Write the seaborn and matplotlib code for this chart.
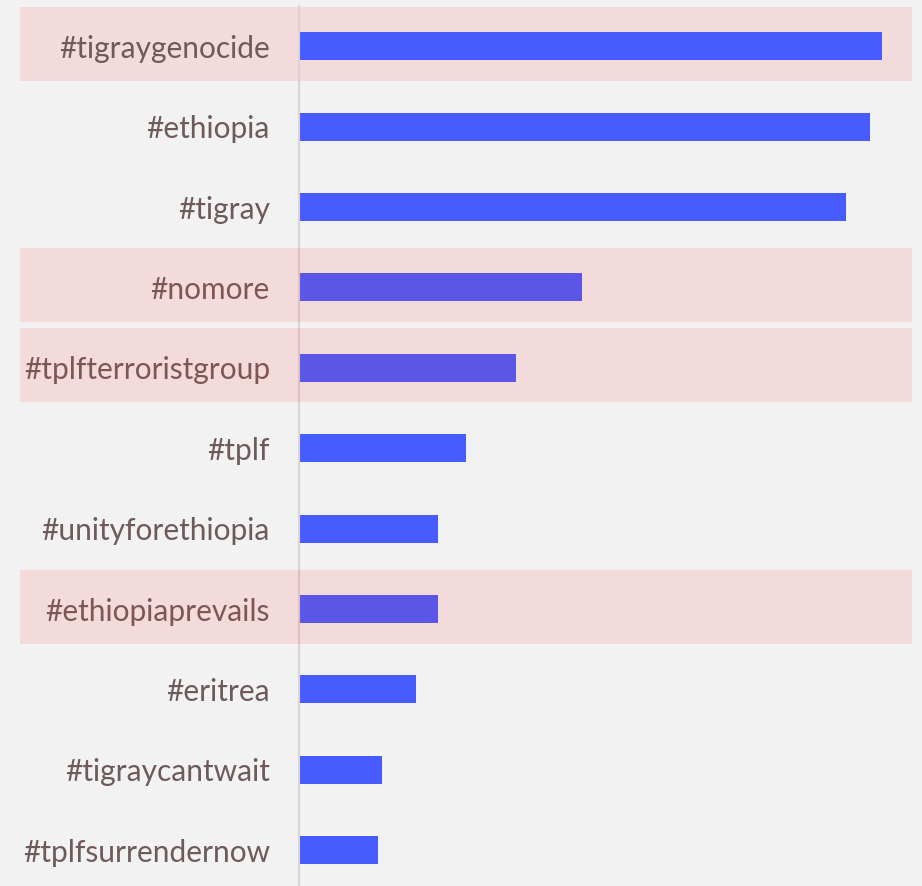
import pandas as pd
import seaborn as sns
import matplotlib.pyplot as plt

# hashtags and their counts
hashtags = ["#tigraygenocide", "#ethiopia", "#tigray", "#nomore", "#tplfterroristgroup",
            "#tplf", "#unityforethiopia", "#ethiopiaprevails", "#eritrea",
            "#tigraycantwait", "#tplfsurrendernow"]
counts = [583, 571, 547, 283, 217, 167, 139, 139, 117, 83, 79]
highlighted = ["#tigraygenocide", "#nomore", "#tplfterroristgroup", "#ethiopiaprevails"]

df = pd.DataFrame({"hashtag": hashtags, "count": counts})

sns.set_style("white")
plt.rcParams["font.family"] = ["Lato", "DejaVu Sans"]

fig = plt.figure(figsize=(9.22, 8.86), dpi=100, facecolor="#f2f2f2")
ax = fig.add_axes([299 / 922, 0, 613 / 922, 880 / 886])
ax.set_facecolor("#f2f2f2")

sns.barplot(data=df, y="hashtag", x="count", orient="h", color="#465cff",
            saturation=1, width=0.35, linewidth=0, ax=ax, zorder=2)

# pink highlight bands (the first sits behind its bar, the others on top)
for i, h in enumerate(hashtags):
    if h in highlighted:
        z = 0.5 if i == 0 else 3
        ax.axhspan(i - 0.49, i + 0.43, xmin=-279 / 613, xmax=1.0,
                   color="#f23b32", alpha=0.12, lw=0, zorder=z, clip_on=False)

ax.set_xlim(0, 613)
ax.set_ylim(10.445, -0.5)
ax.set_xlabel("")
ax.set_ylabel("")
ax.set_xticks([])
for s in ["top", "right", "bottom"]:
    ax.spines[s].set_visible(False)
ax.spines["left"].set_color("#dcd2d2")
ax.spines["left"].set_linewidth(1.5)
ax.tick_params(axis="y", length=0, pad=21, labelsize=21.5, labelcolor="#6e5a5a")

fig.savefig("out.png", dpi=100, facecolor=fig.get_facecolor())
